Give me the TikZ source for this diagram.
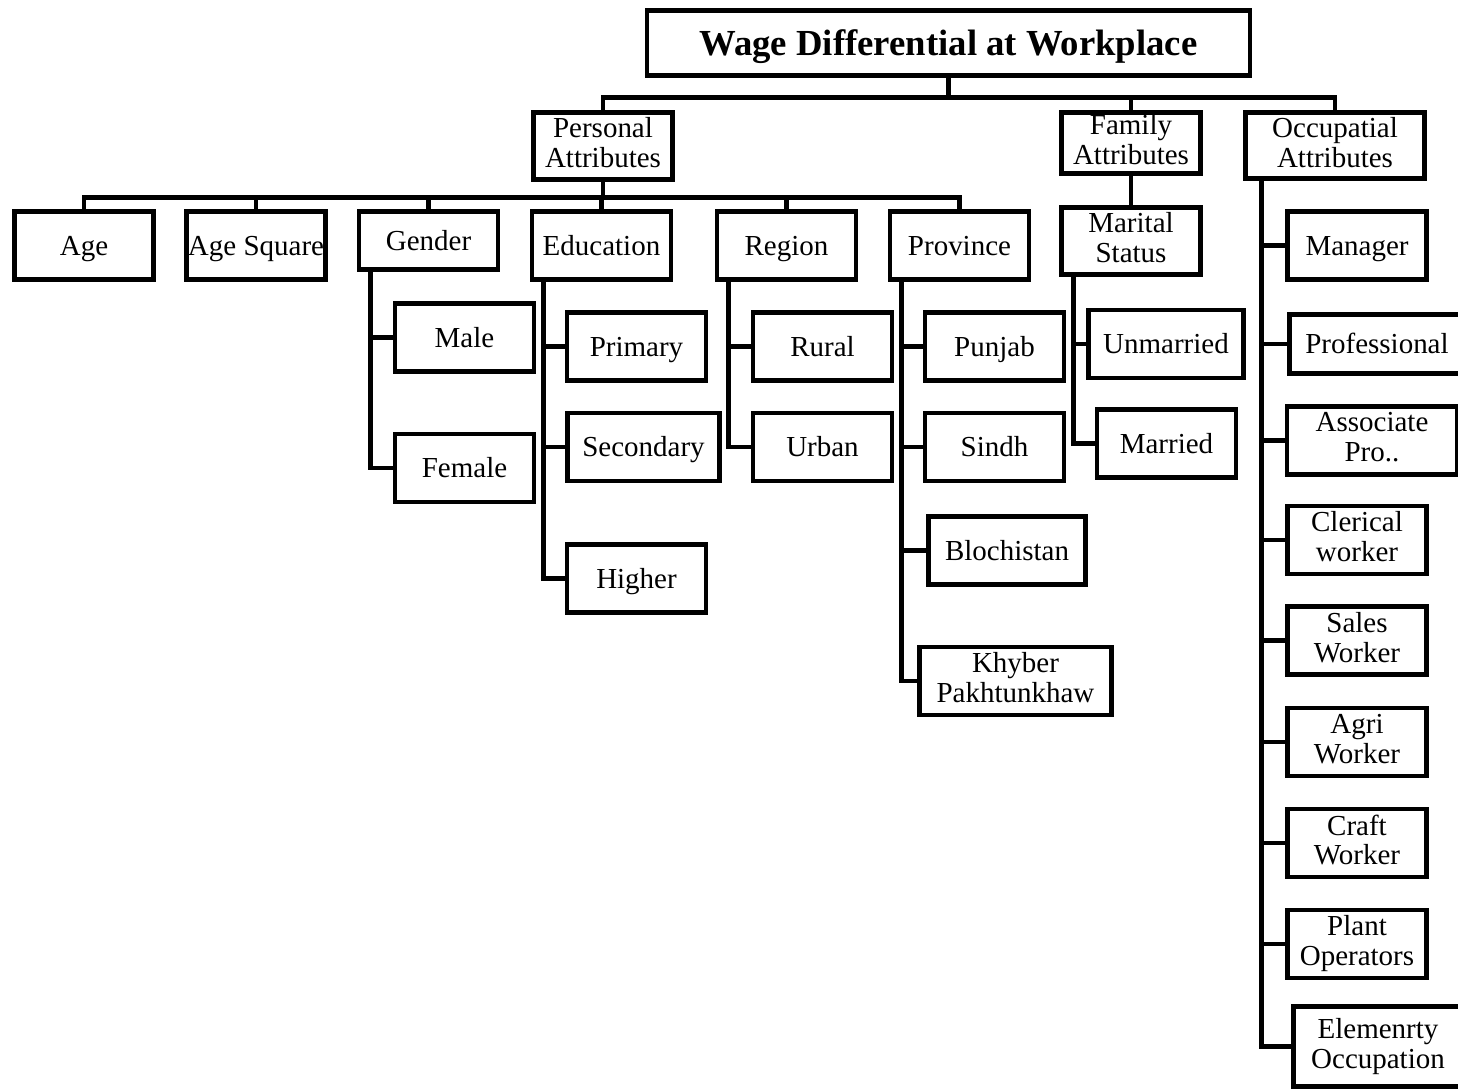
\documentclass[tikz,border=0pt]{standalone}
\usepackage{fontspec}
\setmainfont{Liberation Serif}
\usetikzlibrary{calc}

\newcommand\boxstrut{\rule[-0.22em]{0pt}{1.1em}}
\tikzset{
  box/.style={draw, line width=2.6pt, minimum width=2.78cm, minimum height=1.36cm,
    align=center, inner sep=1pt, font=\fontsize{16.5}{17}\selectfont,
    execute at begin node=\boxstrut, execute at end node=\boxstrut},
  link/.style={line width=2.6pt},
}

\begin{document}
\begin{tikzpicture}[x=0.02cm, y=-0.02cm]
\useasboundingbox (0,0) rectangle (1458,1091);
\clip (0,0) rectangle (1458,1091);

\node[box, minimum width=12.06cm, minimum height=1.3cm, font=\bfseries\fontsize{20.9}{24}\selectfont] (wage) at (948.5,43) {Wage Differential at Workplace};

% three groups of attributes
\node[box, minimum height=1.34cm] (pers) at (603,146) {Personal\\Attributes};
\node[box, minimum height=1.22cm] (fam) at (1131,143) {Family\\Attributes};
\node[box, minimum width=3.58cm, minimum height=1.32cm] (occ) at (1335,145.5) {Occupatial\\Attributes};
\foreach \n in {pers,fam,occ}
  \draw[link] (wage.south) -- ++(0,20) -| (\n.north);

% personal
\node[box] (age) at (84,245.5) {Age};
\node[box] (agesq) at (256,245.5) {Age Square};
\node[box, minimum height=1.16cm] (gender) at (428.5,240.5) {Gender};
\node[box] (edu) at (601.5,245.5) {Education};
\node[box] (region) at (786.5,245.5) {Region};
\node[box] (prov) at (959.5,245.5) {Province};
\foreach \n in {age,agesq,gender,edu,region,prov}
  \draw[link] (pers.south) -- ++(0,16) -| (\n.north);

\node[box] (male) at (464.5,337.5) {Male};
\node[box] (female) at (464.5,468) {Female};
\foreach \n in {male,female}
  \draw[link] ($(gender.south west)+(14,0)$) |- (\n.west);

\node[box] (prim) at (636.5,346.5) {Primary};
\node[box, minimum width=3.04cm] (sec) at (643.5,447) {Secondary};
\node[box] (high) at (636.5,578.5) {Higher};
\foreach \n in {prim,sec,high}
  \draw[link] ($(edu.south west)+(14,0)$) |- (\n.west);

\node[box] (rural) at (822.5,346.5) {Rural};
\node[box] (urban) at (822.5,447) {Urban};
\foreach \n in {rural,urban}
  \draw[link] ($(region.south west)+(14,0)$) |- (\n.west);

\node[box] (punj) at (994.5,346.5) {Punjab};
\node[box] (sindh) at (994.5,447) {Sindh};
\node[box, minimum width=3.14cm] (bloch) at (1007,550.5) {Blochistan};
\node[box, minimum width=3.84cm] (kpk) at (1015.5,681) {Khyber\\Pakhtunkhaw};
\foreach \n in {punj,sindh,bloch,kpk}
  \draw[link] ($(prov.south west)+(14,0)$) |- (\n.west);

% family
\node[box, minimum height=1.34cm] (marital) at (1131,241) {Marital\\Status};
\draw[link] (fam) -- (marital);
\node[box, minimum width=3.1cm] (unmar) at (1166,344) {Unmarried};
\node[box] (mar) at (1166.5,443.5) {Married};
\foreach \n in {unmar,mar}
  \draw[link] ($(marital.south west)+(14,0)$) |- (\n.west);

% occupations
\foreach \n/\y/\t in {mgr/245.5/Manager, cler/540/{Clerical\\worker}, sales/640.5/{Sales\\Worker},
    agri/742/{Agri\\Worker}, craft/843/{Craft\\Worker}, plant/944/{Plant\\Operators}}
  \node[box] (\n) at (1357,\y) {\t};
\node[box, minimum width=3.5cm, minimum height=1.18cm] (prof) at (1377,344) {Professional};
\node[box, minimum width=3.4cm] (asso) at (1372,440.5) {Associate\\Pro..};
\node[box, minimum width=3.38cm, minimum height=1.6cm] (elem) at (1378,1046.5) {Elemenrty\\Occupation};
\foreach \n in {mgr,prof,asso,cler,sales,agri,craft,plant,elem}
  \draw[link] ($(occ.south west)+(18,0)$) |- (\n.west);
\end{tikzpicture}
\end{document}
